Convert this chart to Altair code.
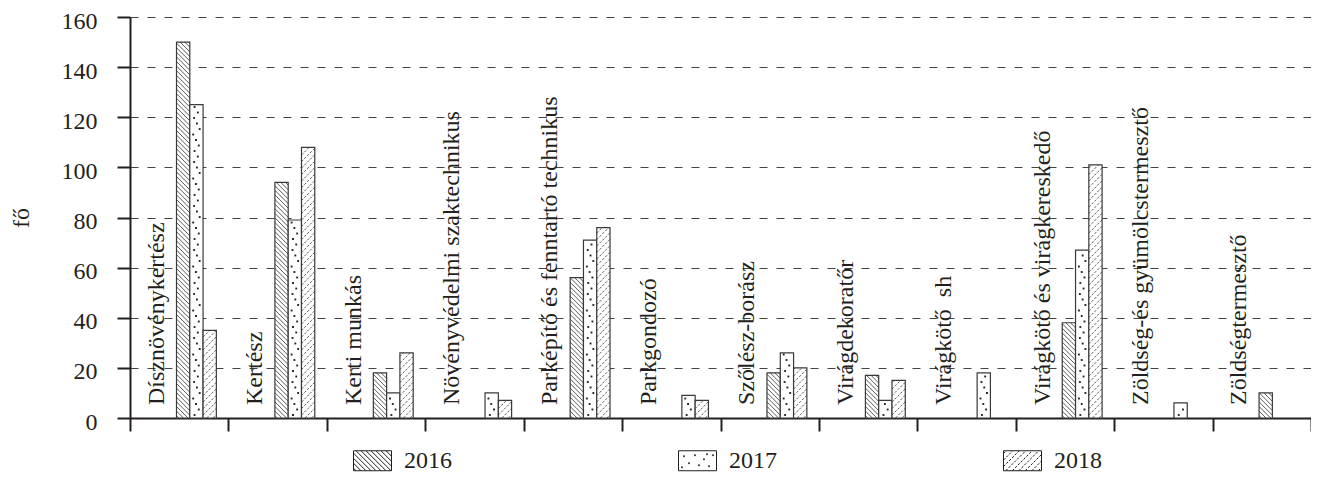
import altair as alt
import pandas as pd

# ---------------- data ----------------
categories = [
    "Dísznövénykertész", "Kertész", "Kerti munkás", "Növényvédelmi szaktechnikus",
    "Parképítő és fenntartó technikus", "Parkgondozó", "Szőlész-borász", "Virágdekoratőr",
    "Virágkötő\u00a0 sh", "Virágkötő és virágkereskedő", "Zöldség-és gyümölcstermesztő",
    "Zöldségtermesztő",
]
years = ["2016", "2017", "2018"]
v2016 = [150, 94, 18, 0, 56, 0, 18, 17, 0, 38, 0, 10]
v2017 = [125, 79, 10, 10, 71, 9, 26, 7, 18, 67, 6, 0]
v2018 = [35, 108, 26, 7, 76, 7, 20, 15, 0, 101, 0, 0]
y_ticks = [0, 20, 40, 60, 80, 100, 120, 140, 160]
y_title = "fő"

# ---------------- layout / style ----------------
W, H = 1181, 401
NCAT = len(categories)
YMAX = 160
GROUP_OFF = 0.4725   # start of bar group inside a category band (band units)
BAR_W = 0.135        # bar width (band units)
LABEL_OFF = 0.272    # label position inside a band
PX_X = W / NCAT
PX_Y = H / YMAX
INK = "#231f20"
OUTLINE = "#3a3a3a"
FONT = "Liberation Serif"

series = {"2016": v2016, "2017": v2017, "2018": v2018}

# bars table
rows = []
for s, yr in enumerate(years):
    for c, cat in enumerate(categories):
        v = series[yr][c]
        if v > 0:
            x0 = c + GROUP_OFF + s * BAR_W
            rows.append({"cat": cat, "year": yr, "x": x0, "x2": x0 + BAR_W, "v": v, "base": 0})
bars = pd.DataFrame(rows)


def hatch(wp, hp, step, direction):
    segs = []
    if direction == "back":  # "\" : u + t = k
        k = step / 2
        while k < wp + hp:
            ua, ub = max(0.0, k - hp), min(wp, k)
            if ub > ua:
                segs.append((ua, k - ua, ub, k - ub))
            k += step
    else:  # "/" : t = u + k
        k = -wp + step / 2
        while k < hp:
            ua, ub = max(0.0, -k), min(wp, hp - k)
            if ub > ua:
                segs.append((ua, ua + k, ub, ub + k))
            k += step
    return segs


hrows, drows = [], []
dot_cycle = [0.3, 0.75, 0.45, 0.15, 0.85, 0.55, 0.25, 0.65]
for _, b in bars.iterrows():
    wp = BAR_W * PX_X
    hp = b["v"] * PX_Y
    if b["year"] == "2016":
        for ua, ta, ub, tb in hatch(wp, hp, 4.6, "back"):
            hrows.append({"year": "2016", "hx": b["x"] + ua / PX_X, "hy": ta / PX_Y,
                          "hx2": b["x"] + ub / PX_X, "hy2": tb / PX_Y})
    elif b["year"] == "2018":
        for ua, ta, ub, tb in hatch(wp, hp, 6.5, "fwd"):
            hrows.append({"year": "2018", "hx": b["x"] + ua / PX_X, "hy": ta / PX_Y,
                          "hx2": b["x"] + ub / PX_X, "hy2": tb / PX_Y})
    else:
        j = 0
        t = 3.0
        while t < hp - 1.5:
            f = dot_cycle[j % len(dot_cycle)]
            u = 2.0 + f * (wp - 4.0)
            drows.append({"dx_": b["x"] + u / PX_X, "dy_": t / PX_Y})
            t += 5.5
            j += 1
hdf = pd.DataFrame(hrows)
ddf = pd.DataFrame(drows)

labels = pd.DataFrame({"cat": categories,
                       "lx": [i + LABEL_OFF for i in range(NCAT)],
                       "ly": [0] * NCAT})


# legend swatch paths (unit = 19px)
def swatch_path(kind):
    R = 19.0
    hw, hh = 19.0, 10.0
    parts = [f"M{-hw/R:.3f},{-hh/R:.3f}H{hw/R:.3f}V{hh/R:.3f}H{-hw/R:.3f}Z"]
    if kind == "back":
        for ua, ta, ub, tb in hatch(2 * hw, 2 * hh, 5.0, "back"):
            x1, y1 = ua - hw, hh - ta
            x2, y2 = ub - hw, hh - tb
            parts.append(f"M{x1/R:.3f},{y1/R:.3f}L{x2/R:.3f},{y2/R:.3f}")
    elif kind == "fwd":
        for ua, ta, ub, tb in hatch(2 * hw, 2 * hh, 6.5, "fwd"):
            x1, y1 = ua - hw, hh - ta
            x2, y2 = ub - hw, hh - tb
            L = ((x2 - x1) ** 2 + (y2 - y1) ** 2) ** 0.5
            d = 0.0
            while d < L:
                e = min(L, d + 2.5)
                ax, ay = x1 + (x2 - x1) * d / L, y1 + (y2 - y1) * d / L
                bx, by = x1 + (x2 - x1) * e / L, y1 + (y2 - y1) * e / L
                parts.append(f"M{ax/R:.3f},{ay/R:.3f}L{bx/R:.3f},{by/R:.3f}")
                d += 4.0
    else:
        pts = [(-14, -5), (-9, 2), (-3, -6), (1, 4), (6, -2), (11, 5), (15, -6), (-16, 6), (9, -7)]
        for px, py in pts:
            parts.append(f"M{px/R:.3f},{py/R:.3f}h0.05v0.05h-0.05Z")
    return "".join(parts)


paths = [swatch_path("back"), swatch_path("dots"), swatch_path("fwd")]

# ---------------- chart ----------------
xs = alt.Scale(domain=[0, NCAT], nice=False, zero=False)
ys = alt.Scale(domain=[0, YMAX], nice=False)

x_axis = alt.Axis(values=list(range(NCAT + 1)), labels=False, ticks=True, tickSize=13,
                  tickWidth=2, tickColor=INK, domainWidth=2, domainColor=INK, grid=False,
                  title="")
y_axis = alt.Axis(values=y_ticks, title=y_title, titleFont=FONT, titleFontSize=24,
                  titleFontWeight="normal", titleColor=INK, titleAngle=270, titleX=-109,
                  titleY=H / 2, titleBaseline="middle", titleAlign="center",
                  tickSize=13, tickWidth=2, tickColor=INK, domainWidth=2, domainColor=INK,
                  labelFont=FONT, labelFontSize=24, labelColor=INK, labelPadding=20,
                  labelOffset=4,
                  grid=True, gridDash=[8, 9], gridColor="#444444", gridWidth=1)

bar_layer = alt.Chart(bars).mark_bar(fill="white", stroke=OUTLINE, strokeWidth=1.2).encode(
    x=alt.X("x:Q", scale=xs, axis=x_axis, title=""),
    x2="x2:Q",
    y=alt.Y("v:Q", scale=ys, axis=y_axis, title=y_title),
    y2="base:Q",
)

back_layer = alt.Chart(hdf).transform_filter("datum.year == '2016'").mark_rule(
    color="#333333", strokeWidth=0.8).encode(
    x=alt.X("hx:Q", scale=xs, axis=x_axis, title=""), x2="hx2:Q",
    y=alt.Y("hy:Q", scale=ys, axis=y_axis, title=y_title), y2="hy2:Q",
)
fwd_layer = alt.Chart(hdf).transform_filter("datum.year == '2018'").mark_rule(
    color="#333333", strokeWidth=0.8, strokeDash=[2.5, 1.5]).encode(
    x=alt.X("hx:Q", scale=xs, axis=x_axis, title=""), x2="hx2:Q",
    y=alt.Y("hy:Q", scale=ys, axis=y_axis, title=y_title), y2="hy2:Q",
)
dot_layer = alt.Chart(ddf).mark_square(size=3.5, filled=True, color=INK, opacity=1).encode(
    x=alt.X("dx_:Q", scale=xs, axis=x_axis, title=""),
    y=alt.Y("dy_:Q", scale=ys, axis=y_axis, title=y_title),
)

text_layer = alt.Chart(labels).mark_text(angle=270, align="left", baseline="middle", dx=13,
                                         font=FONT, fontSize=24, color=INK).encode(
    x=alt.X("lx:Q", scale=xs, axis=x_axis, title=""),
    y=alt.Y("ly:Q", scale=ys, axis=y_axis, title=y_title),
    text="cat:N",
)

legend_layer = alt.Chart(bars).transform_filter("false").mark_point(color=INK, filled=False).encode(
    x=alt.X("x:Q", scale=xs, axis=x_axis, title=""),
    y=alt.Y("v:Q", scale=ys, axis=y_axis, title=y_title),
    shape=alt.Shape("year:N", scale=alt.Scale(domain=years, range=paths),
                    legend=alt.Legend(title=None, orient="none", legendX=223, legendY=424,
                                      direction="horizontal", columnPadding=224,
                                      symbolSize=1444, symbolStrokeWidth=1,
                                      symbolStrokeColor=INK, symbolFillColor="white",
                                      symbolOpacity=1, labelFont=FONT, labelFontSize=24,
                                      labelColor=INK, labelOffset=12, padding=0)),
)

chart = alt.layer(bar_layer, back_layer, fwd_layer, dot_layer, text_layer, legend_layer).properties(
    width=W, height=H,
    autosize=alt.AutoSizeParams(type="none"),
    padding={"left": 122, "top": 9, "right": 0, "bottom": 57},
    background="white",
).configure_view(strokeWidth=0)

chart.save("out.html", embed_options={"renderer": "svg", "actions": False})
